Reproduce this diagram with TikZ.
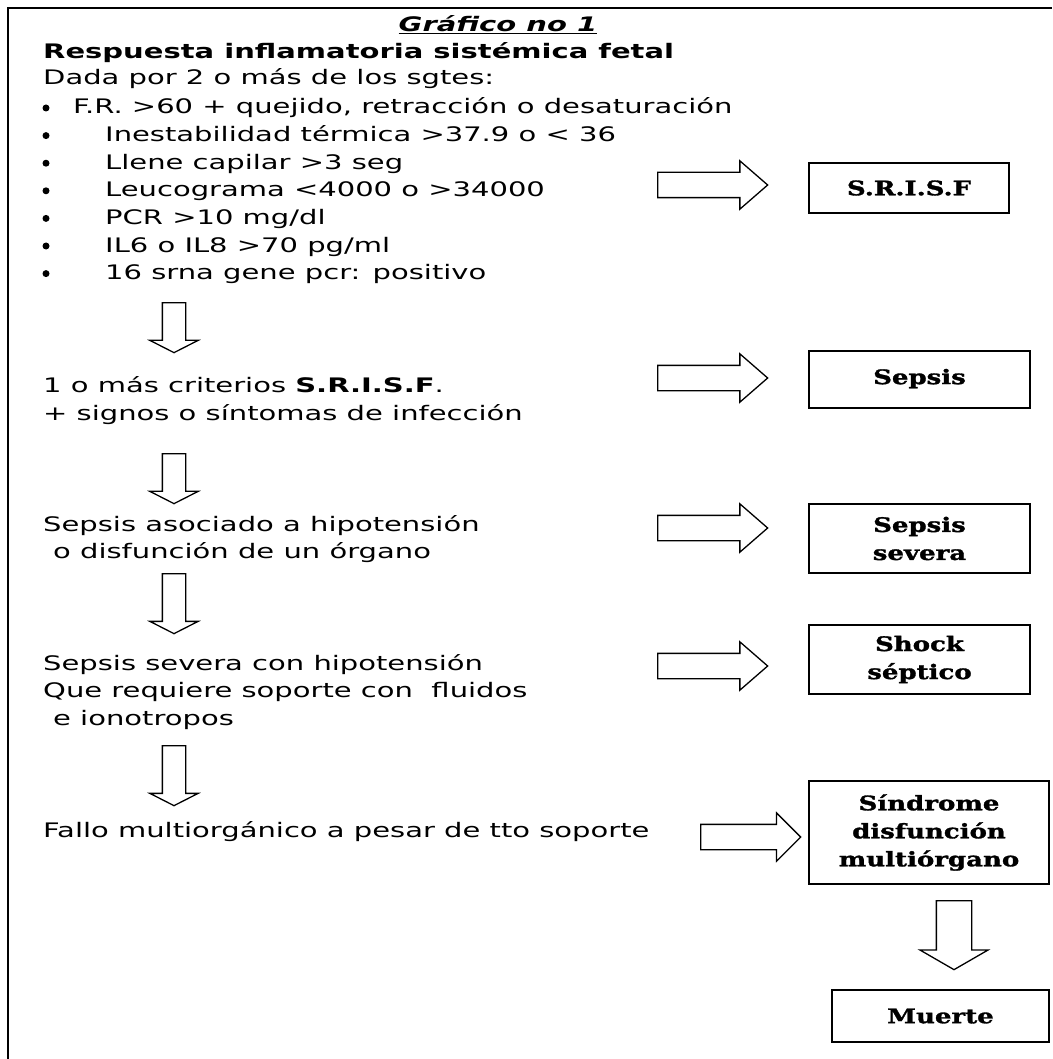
\documentclass[tikz,border=0pt]{standalone}
\usepackage{fontspec}
\setmainfont{DejaVu Sans}[FakeStretch=1.45]
\newfontfamily\boxfont{DejaVu Serif}[FakeStretch=1.3,FakeBold=1.5]
\usetikzlibrary{shapes.arrows}

\tikzset{
	txt/.style={anchor=base west,inner sep=0pt,font=\fontsize{20pt}{24pt}\selectfont},
	dot/.style={fill,circle,inner sep=0pt,minimum size=7pt},
	box/.style={draw,line width=1.8pt,inner sep=0pt,align=center,font=\boxfont\bfseries\fontsize{20pt}{28pt}\selectfont},
	rarrow/.style={draw,line width=1.3pt,single arrow,anchor=tail,inner xsep=0pt,inner ysep=12pt,single arrow head extend=11.5pt,single arrow tip angle=82,minimum height=110pt},
	darrow/.style={draw,line width=1.3pt,single arrow,rotate=-90,anchor=tail,inner xsep=0pt,inner ysep=11pt,single arrow head extend=12.5pt,single arrow tip angle=126}
}

\begin{document}
\begin{tikzpicture}[x=1pt,y=-1pt]
		\useasboundingbox (0,0) rectangle (1052,1059);
		\draw[line width=2.5pt] (8,1059) -- (8,8) -- (1052,8);
		
		\node[inner sep=0pt,font=\bfseries\itshape\fontsize{20pt}{24pt}\selectfont] (title) at (498,25) {\underline{Gráfico no 1}};
		\node[txt] (hdr) at (43,59) {\textbf{Respuesta inflamatoria sistémica fetal}};
		\node[txt] (dada) at (43,85) {Dada por 2 o más de los sgtes:};
		
		\node[dot] (p0) at (46,108) {};
		\node[txt] (c0) at (73,114) {F.R. >60 + quejido, retracción o desaturación};
		\foreach \t[count=\i] in {Inestabilidad térmica >37.9 o < 36,Llene capilar >3 seg,Leucograma <4000 o >34000,PCR >10 mg/dl,IL6 o IL8 >70 pg/ml,16 srna gene pcr: positivo}{
			\node[dot] (p\i) at (46,108+27.6*\i) {};
			\node[txt] (c\i) at (105,114+27.6*\i) {\t};
		}
		
		\node[txt] (s1) at (43,392) {1 o más criterios \textbf{S.R.I.S.F}.};
		\node[txt] (s2) at (43,420) {+ signos o síntomas de infección};
		\node[txt] (h1) at (43,531) {Sepsis asociado a hipotensión};
		\node[txt] (h2) at (53,558) {o disfunción de un órgano};
		\node[txt] (k1) at (43,670) {Sepsis severa con hipotensión};
		\node[txt] (k2) at (43,697) {Que requiere soporte con\ \ fluidos};
		\node[txt] (k3) at (53,725) {e ionotropos};
		\node[txt] (m1) at (43,837) {Fallo multiorgánico a pesar de tto soporte};
		
		\node[box,minimum width=200pt,minimum height=50pt] (b1) at (909,188) {S.R.I.S.F};
		\node[box,minimum width=221pt,minimum height=57pt] (b2) at (919.5,379.5) {\raisebox{6pt}{Sepsis}};
		\node[box,minimum width=221pt,minimum height=69pt] (b3) at (919.5,538.5) {Sepsis\\severa};
		\node[box,minimum width=221pt,minimum height=69pt] (b4) at (919.5,659.5) {Shock\\séptico};
		\node[box,minimum width=240pt,minimum height=103pt] (b5) at (929,832.5) {Síndrome\\disfunción\\multiórgano};
		\node[box,minimum width=217pt,minimum height=52pt] (b6) at (940.5,1016) {Muerte};
		
		\node[rarrow] (r1) at (657,185) {};
		\node[rarrow] (r2) at (657,378) {};
		\node[rarrow] (r3) at (657,528) {};
		\node[rarrow] (r4) at (657,666) {};
		\node[rarrow,minimum height=100pt,single arrow tip angle=90] (r5) at (700,837) {};
		
		\node[darrow,minimum height=50pt] (d1) at (174,302) {};
		\node[darrow,minimum height=50pt] (d2) at (174,453) {};
		\node[darrow,minimum height=60pt] (d3) at (174,573) {};
		\node[darrow,minimum height=60pt] (d4) at (174,745) {};
		\node[darrow,inner ysep=17pt,single arrow head extend=16.5pt,single arrow tip angle=120,minimum height=69pt] (d5) at (954,900) {};
\end{tikzpicture}
\end{document}
